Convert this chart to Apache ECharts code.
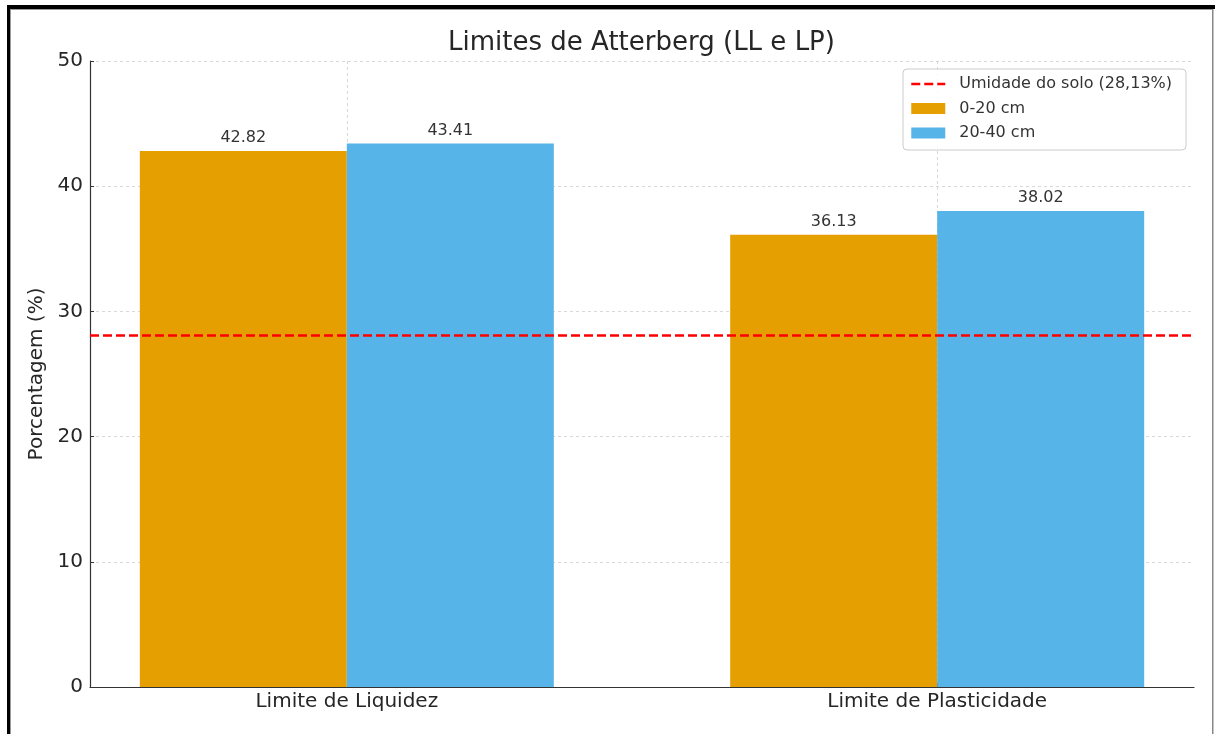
<!DOCTYPE html>
<html><head><meta charset="utf-8">
<script src="https://cdn.jsdelivr.net/npm/echarts@6/dist/echarts.min.js"></script>
<style>html,body{margin:0;padding:0;background:#fff}#c{width:1215px;height:734px}</style>
</head><body><div id="c"></div>
<script>
const categories = ['Limite de Liquidez', 'Limite de Plasticidade'];
const seriesNames = ['0-20 cm', '20-40 cm'];
const depth0to20 = [42.82, 36.13];
const depth20to40 = [43.41, 38.02];
const soilMoisture = 28.13;
const moistureLabel = 'Umidade do solo (28,13%)';
const titleText = 'Limites de Atterberg (LL e LP)';
const yAxisLabel = 'Porcentagem (%)';
const yMin = 0, yMax = 50, yStep = 10;

const FONT = 'DejaVu Sans';
const TXT = '#262626';
const GRID = '#cfcfcf';
const catIdx = categories.map((c, i) => i);
const toPts = arr => arr.map((v, i) => [i, v]);

const chart = echarts.init(document.getElementById('c'), null, {renderer: 'canvas'});
chart.setOption({
  animation: false,
  backgroundColor: '#fff',
  textStyle: {fontFamily: FONT},
  grid: {left: 90, top: 61, width: 1104, height: 626, containLabel: false},
  graphic: [
    {type: 'rect', shape: {x: 7, y: 5, width: 1208, height: 4}, style: {fill: '#000'}, z: 100},
    {type: 'rect', shape: {x: 7, y: 5, width: 3, height: 729}, style: {fill: '#000'}, z: 100},
    {type: 'rect', shape: {x: 10, y: 9, width: 1, height: 725}, style: {fill: '#999'}, z: 100},
    {type: 'rect', shape: {x: 10, y: 9, width: 1203, height: 1}, style: {fill: '#999'}, z: 100},
    {type: 'rect', shape: {x: 1212, y: 9, width: 1.5, height: 725}, style: {fill: '#888'}, z: 100},
    {type: 'text', x: 641.5, y: 43, z: 100,
     style: {text: titleText, fontFamily: FONT, fontSize: 26, fill: TXT, align: 'center', verticalAlign: 'middle'}}
  ],
  legend: {
    orient: 'vertical', left: 903, top: 69,
    padding: [7, 14, 9, 7],
    itemWidth: 34, itemHeight: 11, itemGap: 8.5,
    borderColor: '#cccccc', borderWidth: 1, borderRadius: 4,
    backgroundColor: 'rgba(255,255,255,0.85)',
    textStyle: {fontFamily: FONT, fontSize: 16, color: '#333', lineHeight: 16, padding: [0, 0, 0, 9]},
    data: [
      {name: moistureLabel, itemStyle: {opacity: 0},
       lineStyle: {color: '#ff0000', width: 2.5, type: [9, 4]}},
      {name: seriesNames[0], icon: 'rect'},
      {name: seriesNames[1], icon: 'rect'}
    ]
  },
  xAxis: {
    type: 'value', min: -0.435, max: 1.435,
    axisLine: {show: true, onZero: false, lineStyle: {color: '#333', width: 1.2}},
    axisTick: {show: true, inside: true, length: 4, customValues: catIdx, lineStyle: {color: '#333'}},
    axisLabel: {customValues: catIdx, formatter: v => categories[Math.round(v)] || '',
      fontFamily: FONT, fontSize: 20, color: TXT, margin: 5},
    splitLine: {show: true, lineStyle: {color: GRID, type: [3, 3], width: 0.8}}
  },
  yAxis: {
    type: 'value', min: yMin, max: yMax, interval: yStep,
    name: yAxisLabel, nameLocation: 'middle', nameGap: 33,
    nameTextStyle: {fontFamily: FONT, fontSize: 20, color: TXT},
    axisLine: {show: true, onZero: false, lineStyle: {color: '#333', width: 1.2}},
    axisTick: {show: true, inside: true, length: 4, lineStyle: {color: '#333'}},
    axisLabel: {fontFamily: FONT, fontSize: 20, color: TXT, margin: 7},
    splitLine: {show: true, lineStyle: {color: GRID, type: [3, 3], width: 0.8}}
  },
  series: [
    {
      name: seriesNames[0], type: 'bar', data: toPts(depth0to20),
      barWidth: 207, barGap: '0%', z: 2,
      itemStyle: {color: '#E69F00'},
      label: {show: true, position: 'top', distance: 5, fontFamily: FONT, fontSize: 16, color: '#333',
        formatter: p => p.value[1].toFixed(2)}
    },
    {
      name: seriesNames[1], type: 'bar', data: toPts(depth20to40),
      barWidth: 207, barGap: '0%', z: 2,
      itemStyle: {color: '#56B4E9'},
      label: {show: true, position: 'top', distance: 5, fontFamily: FONT, fontSize: 16, color: '#333',
        formatter: p => p.value[1].toFixed(2)}
    },
    {
      name: moistureLabel, type: 'line', data: [], symbol: 'none', showSymbol: false, z: 5,
      lineStyle: {color: '#ff0000', type: [9, 4], width: 2.5},
      itemStyle: {color: '#ff0000'},
      markLine: {
        silent: true, symbol: ['none', 'none'], label: {show: false},
        lineStyle: {color: '#ff0000', type: [9, 4], width: 2.5},
        emphasis: {disabled: true},
        data: [{yAxis: soilMoisture}]
      }
    }
  ]
});
</script></body></html>
